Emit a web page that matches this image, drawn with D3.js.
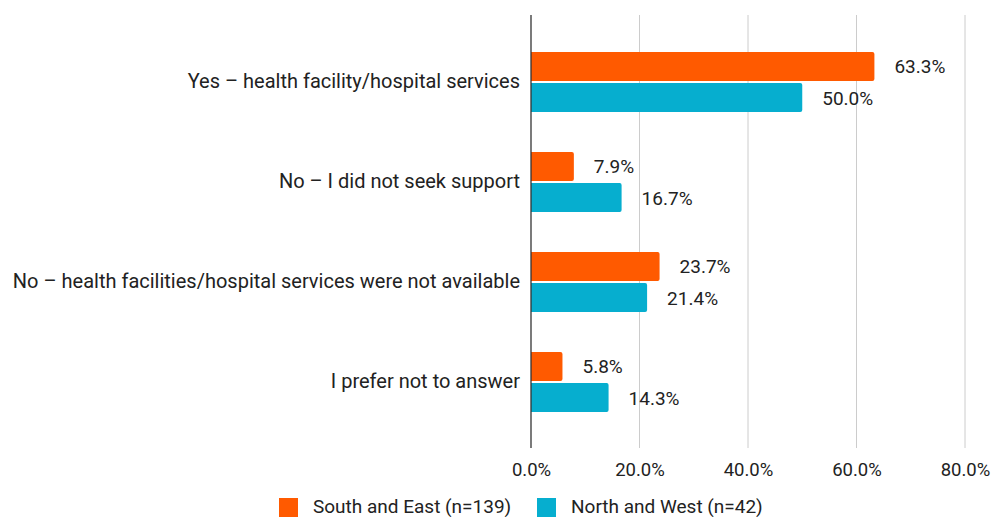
<!DOCTYPE html>
<html>
<head>
<meta charset="utf-8">
<script src="https://cdn.jsdelivr.net/npm/d3@7"></script>
<style>
  html, body { margin: 0; padding: 0; background: #fff; }
  svg { display: block; font-family: Roboto, "Noto Sans", sans-serif; }
</style>
</head>
<body>
<svg id="chart" width="992" height="517"></svg>
<script>
// Responses by region
const categories = [
  "Yes – health facility/hospital services",
  "No – I did not seek support",
  "No – health facilities/hospital services were not available",
  "I prefer not to answer"
];
const seriesNames = ["South and East (n=139)", "North and West (n=42)"];
const southEast = [63.3, 7.9, 23.7, 5.8];
const northWest = [50.0, 16.7, 21.4, 14.3];
const xTicks = [0, 20, 40, 60, 80];
const colors = ["#FF5A00", "#06AECF"];

const svg = d3.select("#chart");
const plotLeft = 531, plotRight = 965, plotTop = 32, plotBottom = 432;

const x = d3.scaleLinear().domain([0, 80]).range([plotLeft, plotRight]);
const y = d3.scaleBand().domain(categories).range([plotTop, plotBottom]);
const inner = d3.scaleBand().domain(seriesNames).range([y.bandwidth() / 2 - 30, y.bandwidth() / 2 + 30]).paddingInner(0.067);

// Vertical gridlines with tick marks below the plot
const grid = svg.append("g");
grid.selectAll("line").data(xTicks.slice(1)).join("line")
  .attr("x1", d => x(d)).attr("x2", d => x(d))
  .attr("y1", 15).attr("y2", 448)
  .attr("stroke", "#cccccc").attr("stroke-width", 1);

// Tick labels
const xAxis = d3.axisBottom(x).tickValues(xTicks).tickSize(0).tickFormat(d => d.toFixed(1) + "%");
const axG = svg.append("g").attr("transform", "translate(0,460)").call(xAxis);
axG.select(".domain").remove();
axG.selectAll("text").attr("font-size", 18.5).attr("fill", "#222").attr("font-family", "Roboto, sans-serif");

// Bars
const rows = categories.map((c, i) => ({ cat: c, vals: [southEast[i], northWest[i]] }));
const groups = svg.append("g").selectAll("g").data(rows).join("g")
  .attr("transform", d => `translate(0,${y(d.cat)})`);

groups.selectAll("path").data(d => d.vals.map((v, j) => ({ v, s: seriesNames[j], j }))).join("path")
  .attr("fill", d => colors[d.j])
  .attr("d", d => {
    const x0 = x(0), x1 = x(d.v), y0 = inner(d.s), h = inner.bandwidth(), r = 2;
    return `M${x0},${y0}H${x1 - r}Q${x1},${y0} ${x1},${y0 + r}V${y0 + h - r}Q${x1},${y0 + h} ${x1 - r},${y0 + h}H${x0}Z`;
  });

groups.selectAll("text.val").data(d => d.vals.map((v, j) => ({ v, s: seriesNames[j], j }))).join("text")
  .attr("class", "val")
  .attr("x", d => x(d.v) + 20)
  .attr("y", d => inner(d.s) + inner.bandwidth() / 2 + 2)
  .attr("dominant-baseline", "middle")
  .attr("font-size", 19).attr("fill", "#222")
  .text(d => d.v.toFixed(1) + "%");

// Category labels
groups.append("text")
  .attr("x", 520).attr("y", y.bandwidth() / 2 + 1)
  .attr("text-anchor", "end").attr("dominant-baseline", "middle")
  .attr("font-size", 20).attr("fill", "#222")
  .text(d => d.cat);

// Zero axis line
svg.append("line")
  .attr("x1", x(0)).attr("x2", x(0)).attr("y1", 15).attr("y2", 448)
  .attr("stroke", "#333").attr("stroke-width", 1.3);

// Legend
const legend = svg.append("g");
const legendX = [279, 537];
seriesNames.forEach((s, i) => {
  legend.append("rect").attr("x", legendX[i]).attr("y", 498).attr("width", 19).attr("height", 19).attr("fill", colors[i]);
  legend.append("text").attr("x", legendX[i] + 34).attr("y", 508)
    .attr("dominant-baseline", "middle").attr("font-size", 19).attr("fill", "#222").text(s);
});
</script>
</body>
</html>
